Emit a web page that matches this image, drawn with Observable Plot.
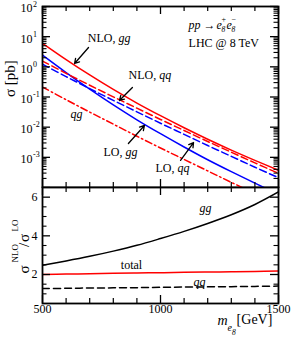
<!DOCTYPE html>
<html>
<head>
<meta charset="utf-8">
<script src="https://cdn.jsdelivr.net/npm/d3@7"></script>
<script src="https://cdn.jsdelivr.net/npm/@observablehq/plot@0.6"></script>
<style>
html,body{margin:0;padding:0;background:#fff;}
#chart{position:relative;width:291px;height:340px;overflow:hidden;background:#fff;}
#chart svg{position:absolute;left:0;}
</style>
</head>
<body>
<div id="chart"></div>
<script>
// ---------- data ----------
const mass = [500, 600, 700, 800, 900, 1000, 1100, 1200, 1300, 1400, 1500];
// cross sections in pb
const nloGG = [6.026, 1.738, 0.537, 0.1778, 0.0631, 0.02399, 0.00955, 0.003981, 0.001738, 0.000794, 0.000372];
const loGG  = [2.432, 0.6442, 0.182, 0.0547, 0.01754, 0.006067, 0.002198, 0.00083, 0.000334, 0.000139, 0.0000593];
const nloQQ = [1.549, 0.6095, 0.2455, 0.1012, 0.04266, 0.01799, 0.007762, 0.00335, 0.001479, 0.000653, 0.000295];
const loQQ  = [1.219, 0.4742, 0.1892, 0.07727, 0.03228, 0.01349, 0.005768, 0.002466, 0.001079, 0.000471, 0.000211];
const nloQG = [0.2138, 0.08128, 0.03162, 0.01259, 0.005012, 0.002042, 0.000851, 0.000355, 0.000148, 0.0000631, 0.0000269];
// K factors sigma_NLO / sigma_LO
const ratioGG    = [2.48, 2.70, 2.94, 3.21, 3.51, 3.86, 4.23, 4.64, 5.09, 5.62, 6.27];
const ratioTotal = [2.00, 2.02, 2.04, 2.06, 2.08, 2.09, 2.11, 2.13, 2.14, 2.16, 2.18];
const ratioQQ    = [1.27, 1.285, 1.30, 1.31, 1.32, 1.335, 1.35, 1.36, 1.37, 1.385, 1.40];

// tick labels
const xTickLabels = [500, 1000, 1500];
const xMinorTicks = [600, 700, 800, 900, 1100, 1200, 1300, 1400];
const yTopTickValues = [100, 10, 1, 0.1, 0.01, 0.001];
const yTopTickExps = ["2", "1", "0", "-1", "-2", "-3"];
const yBotTickLabels = [2, 4, 6];
const yBotMinor = [1, 1.5, 2.5, 3, 3.5, 4.5, 5, 5.5];

// annotations (data coordinates)
const topLabels = [
  {roman: "NLO,", italic: "gg", m: 809, v: 8.7},
  {roman: "NLO,", italic: "qq", m: 982, v: 0.516},
  {roman: "LO,", italic: "gg", m: 839, v: 0.00145},
  {roman: "LO,", italic: "qq", m: 1059, v: 0.000427}
];
const qgLabel = [{text: "qg", m: 644, v: 0.0263}];
const arrows = [
  {m1: 695, v1: 4.38, m2: 636, v2: 1.29},
  {m1: 881, v1: 0.206, m2: 826, v2: 0.0766},
  {m1: 864, v1: 0.00288, m2: 932, v2: 0.01137},
  {m1: 1085, v1: 0.000794, m2: 1140, v2: 0.00309}
];
const procAnchor = [{m: 1119, v: 23.4}];
const lhcLabel = [{text: "LHC @ 8 TeV", m: 1119, v: 5.94}];
const botLabels = [
  {text: "gg", m: 1191, v: 5.41, italic: true},
  {text: "total", m: 877, v: 2.46, italic: false},
  {text: "qq", m: 1165, v: 1.59, italic: true}
];

// ---------- helpers ----------
const FONT = '"Liberation Serif","Times New Roman",Times,serif';
const rows = (values) => mass.map((m, i) => ({m, v: values[i]}));
const W = 291, ML = 42, MR = 13;
const IW = W - ML - MR;         // inner width
const HT = 181;                  // inner height top
const HB = 116;                  // inner height bottom
const decades = [1e-4, 1e-3, 1e-2, 1e-1, 1, 10, 100];
const logMinor = [];
for (let e = -4; e < 2; e++) for (let k = 2; k < 10; k++) logMinor.push(k * Math.pow(10, e));

const topSeries = [
  {values: nloGG, stroke: "#ff0000", dash: null},
  {values: loGG, stroke: "#0000ff", dash: null},
  {values: nloQQ, stroke: "#ff0000", dash: "7,3.5"},
  {values: loQQ, stroke: "#0000ff", dash: "7,3.5"},
  {values: nloQG, stroke: "#ff0000", dash: "7,3,1.5,3"}
];
const botSeries = [
  {values: ratioGG, stroke: "#000", dash: null},
  {values: ratioTotal, stroke: "#ff0000", dash: null},
  {values: ratioQQ, stroke: "#000", dash: "7,4"}
];

function xTicks(H) {
  return [
    Plot.tickX(xTickLabels, {x: d => d, insetBottom: H - 8, strokeWidth: 1.3}),
    Plot.tickX(xTickLabels, {x: d => d, insetTop: H - 8, strokeWidth: 1.3}),
    Plot.tickX(xMinorTicks, {x: d => d, insetBottom: H - 5, strokeWidth: 1.2}),
    Plot.tickX(xMinorTicks, {x: d => d, insetTop: H - 5, strokeWidth: 1.2})
  ];
}
function yTicks(major, minor) {
  return [
    Plot.tickY(major, {y: d => d, insetRight: IW - 8, strokeWidth: 1.3}),
    Plot.tickY(major, {y: d => d, insetLeft: IW - 8, strokeWidth: 1.3}),
    Plot.tickY(minor, {y: d => d, insetRight: IW - 4.5, strokeWidth: 1.1}),
    Plot.tickY(minor, {y: d => d, insetLeft: IW - 4.5, strokeWidth: 1.1})
  ];
}
const styleObj = {fontFamily: FONT, fontSize: "12px", background: "none", color: "black"};

// process label pieces: pp -> e8+ e8-
const procPieces = [
  {t: "pp", dx: 0, dy: 0, size: 12, it: true},
  {t: "\u2192", dx: 15, dy: 0, size: 12, it: false},
  {t: "e", dx: 28, dy: 0, size: 12, it: true},
  {t: "+", dx: 33, dy: -6.5, size: 8, it: false},
  {t: "8", dx: 33, dy: 4, size: 7.5, it: true},
  {t: "e", dx: 38, dy: 0, size: 12, it: true},
  {t: "\u2212", dx: 43, dy: -6.5, size: 8, it: false},
  {t: "8", dx: 43, dy: 4, size: 7.5, it: true}
];

// ---------- top panel ----------
const topMarks = [
  ...topSeries.map(s => Plot.line(rows(s.values), {
    x: "m", y: "v", stroke: s.stroke, strokeWidth: 1.5,
    strokeDasharray: s.dash, curve: "catmull-rom", clip: true
  })),
  ...yTicks(decades, logMinor),
  ...xTicks(HT),
  Plot.frame({strokeWidth: 1.8}),
  Plot.text(yTopTickValues, {y: d => d, frameAnchor: "left", text: () => "10", textAnchor: "end", dx: -10, dy: 2, fontSize: 12}),
  Plot.text(yTopTickValues, {y: d => d, frameAnchor: "left", text: (d, i) => yTopTickExps[i], textAnchor: "start", dx: -9.5, dy: -2.5, fontSize: 8}),
  Plot.text(topLabels, {x: "m", y: "v", text: "roman", textAnchor: "end", fontSize: 12}),
  Plot.text(topLabels, {x: "m", y: "v", text: "italic", textAnchor: "start", dx: 3, fontSize: 12, fontStyle: "italic"}),
  Plot.text(qgLabel, {x: "m", y: "v", text: "text", fontSize: 12, fontStyle: "italic"}),
  Plot.arrow(arrows, {x1: "m1", y1: "v1", x2: "m2", y2: "v2", stroke: "black", strokeWidth: 1.3, headLength: 6}),
  ...procPieces.map(p => Plot.text(procAnchor, {
    x: "m", y: "v", text: () => p.t, textAnchor: "start", dx: p.dx, dy: p.dy,
    fontSize: p.size, fontStyle: p.it ? "italic" : "normal"
  })),
  Plot.text(lhcLabel, {x: "m", y: "v", text: "text", textAnchor: "start", fontSize: 12}),
  Plot.text([0], {frameAnchor: "left", dx: -32, text: () => "\u03c3 [pb]", rotate: -90, fontSize: 15})
];

const topPlot = Plot.plot({
  width: W, height: 188,
  marginLeft: ML, marginRight: MR, marginTop: 6, marginBottom: 1,
  style: styleObj,
  x: {domain: [500, 1500], axis: null},
  y: {type: "log", domain: [1e-4, 100], axis: null},
  marks: topMarks
});

// ---------- bottom panel ----------
const yPieces = [
  {t: "\u03c3", dx: -18, dy: 28, size: 15},
  {t: "NLO", dx: -27, dy: 17, size: 9},
  {t: "/", dx: -18, dy: 1.5, size: 15},
  {t: "\u03c3", dx: -18, dy: -3.5, size: 15},
  {t: "LO", dx: -27, dy: -14, size: 9}
];
const xTitle = [
  {t: "m", dx: 0, dy: 21, size: 14, it: true},
  {t: "e", dx: 10, dy: 27, size: 10, it: true},
  {t: "8", dx: 14.5, dy: 31, size: 7.5, it: true},
  {t: "[GeV]", dx: 19, dy: 20, size: 14, it: false}
];
const xTitleAnchor = [1242];

const botMarks = [
  ...botSeries.map(s => Plot.line(rows(s.values), {
    x: "m", y: "v", stroke: s.stroke, strokeWidth: 1.5,
    strokeDasharray: s.dash, curve: "catmull-rom", clip: true
  })),
  ...yTicks(yBotTickLabels, yBotMinor),
  ...xTicks(HB),
  Plot.frame({strokeWidth: 1.8}),
  Plot.text(yBotTickLabels, {y: d => d, frameAnchor: "left", text: d => String(d), textAnchor: "end", dx: -5, fontSize: 12}),
  Plot.text(xTickLabels, {x: d => d, frameAnchor: "bottom", text: d => String(d), dy: 9, fontSize: 12}),
  Plot.text(botLabels.filter(d => d.italic), {x: "m", y: "v", text: "text", fontSize: 12, fontStyle: "italic"}),
  Plot.text(botLabels.filter(d => !d.italic), {x: "m", y: "v", text: "text", fontSize: 12}),
  ...yPieces.map(p => Plot.text([0], {
    frameAnchor: "left", text: () => p.t, rotate: -90, textAnchor: "start",
    dx: p.dx, dy: p.dy, fontSize: p.size
  })),
  ...xTitle.map(p => Plot.text(xTitleAnchor, {
    x: d => d, frameAnchor: "bottom", text: () => p.t, textAnchor: "start",
    dx: p.dx, dy: p.dy, fontSize: p.size, fontStyle: p.it ? "italic" : "normal"
  }))
];

const botPlot = Plot.plot({
  width: W, height: 154,
  marginLeft: ML, marginRight: MR, marginTop: 1, marginBottom: 37,
  style: styleObj,
  x: {domain: [500, 1500], axis: null},
  y: {domain: [0.5, 6.5], axis: null},
  marks: botMarks
});

const chart = document.getElementById("chart");
topPlot.style.top = "0px";
botPlot.style.top = "186px";
chart.appendChild(botPlot);
chart.appendChild(topPlot);
</script>
</body>
</html>
